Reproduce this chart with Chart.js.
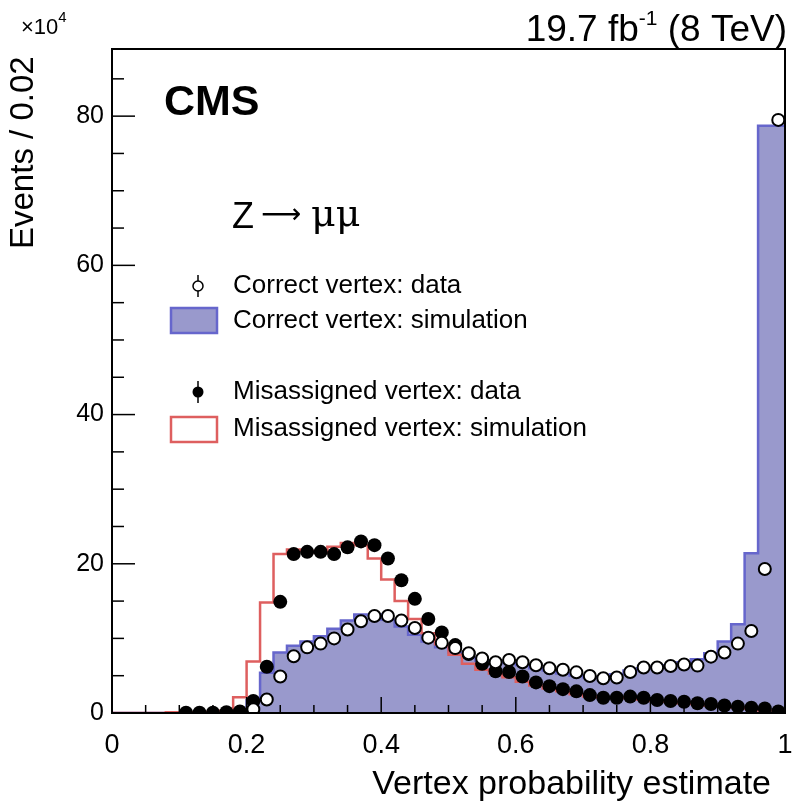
<!DOCTYPE html>
<html>
<head>
<meta charset="utf-8">
<script src="https://cdn.jsdelivr.net/npm/chart.js@4.4.1/dist/chart.umd.min.js"></script>
<style>
  body { margin: 0; background: #fff; }
  #wrap { width: 796px; height: 808px; }
</style>
</head>
<body>
<div id="wrap"><canvas id="chart" width="796" height="808"></canvas></div>
<script>
// bins of 0.02 from 0 to 1 (values in units of 10^4 events)
const BIN_WIDTH = 0.02;
const N_BINS = 50;
const binEdges = Array.from({ length: N_BINS }, (_, i) => +(i * BIN_WIDTH).toFixed(2));
const binCenters = binEdges.map(e => +(e + BIN_WIDTH / 2).toFixed(2));

const correctSim = [
  0, 0, 0, 0, 0, 0, 0, 0, 0, 0,
  0.4, 1.7, 5.4, 8.1, 9.0, 9.6, 10.3, 11.3, 12.4, 13.2,
  13.2, 12.5, 11.6, 10.5, 9.6, 8.8, 8.1, 7.4, 7.0, 6.9,
  6.7, 6.4, 6.0, 5.7, 5.3, 5.0, 4.8, 4.8, 5.2, 5.7,
  6.0, 6.2, 6.4, 6.8, 7.2, 8.0, 9.6, 11.9, 21.4, 78.7
];
const misSim = [
  0, 0, 0, 0, 0, 0.1, 0.1, 0.1, 0.15, 0.3,
  2.1, 6.9, 14.8, 21.3, 21.9, 21.7, 21.5, 22.3, 22.8, 22.5,
  20.7, 17.9, 15.0, 12.6, 10.7, 9.2, 7.8, 6.6, 5.8, 5.3,
  4.8, 4.2, 3.7, 3.3, 2.9, 2.5, 2.2, 2.1, 2.1, 2.0,
  1.8, 1.6, 1.5, 1.3, 1.2, 1.0, 0.9, 0.75, 0.6, 0.35
];
const correctData = [
  null, null, null, null, null, null, null, null, null, null,
  0.5, 1.8, 4.9, 7.6, 8.8, 9.3, 10.0, 11.2, 12.3, 13.0,
  13.0, 12.4, 11.4, 10.1, 9.4, 8.7, 8.0, 7.3, 6.8, 7.1,
  6.8, 6.4, 6.0, 5.8, 5.45, 4.95, 4.65, 4.75, 5.5, 6.1,
  6.1, 6.3, 6.5, 6.35, 7.55, 8.1, 9.3, 11.0, 19.3, 79.5
];
const misData = [
  null, null, null, null, null, 0.05, 0.05, 0.05, 0.1, 0.2,
  1.6, 6.2, 14.9, 21.3, 21.6, 21.6, 21.3, 22.2, 23.0, 22.5,
  20.7, 17.8, 15.3, 12.6, 10.8, 9.1, 7.9, 6.6, 5.6, 5.5,
  4.9, 4.1, 3.6, 3.2, 2.9, 2.4, 2.05, 2.05, 2.2, 2.05,
  1.75, 1.6, 1.5, 1.3, 1.2, 1.0, 0.85, 0.7, 0.6, 0.2
];

const xTicks = [0, 0.2, 0.4, 0.6, 0.8, 1];
const yTicks = [0, 20, 40, 60, 80];
const xMinorStep = 0.05;
const yMinorStep = 5;

const BLUE_FILL = 'rgb(153,153,204)';
const BLUE_LINE = 'rgb(102,102,204)';
const RED_LINE = 'rgb(222,95,95)';
const FONT = '"Liberation Sans", Arial, Helvetica, sans-serif';

function histPoints(vals) {
  const pts = binEdges.map((e, i) => ({ x: e, y: vals[i] }));
  pts.push({ x: 1, y: vals[vals.length - 1] });
  return pts;
}
function dataPoints(vals) {
  return binCenters.map((c, i) => ({ x: c, y: vals[i] })).filter(p => p.y !== null);
}

const framePlugin = {
  id: 'frame',
  afterDatasetsDraw(chart) {
    const { ctx, chartArea: a, scales } = chart;
    const xs = scales.x, ys = scales.y;
    ctx.save();
    ctx.strokeStyle = '#000';
    ctx.lineWidth = 2;
    ctx.strokeRect(a.left, a.top, a.right - a.left, a.bottom - a.top);
    ctx.lineWidth = 1.5;
    // ticks point inward, ROOT style
    for (let v = 0; v <= 1.0001; v += xMinorStep) {
      const px = xs.getPixelForValue(v);
      const major = xTicks.some(t => Math.abs(t - v) < 1e-6);
      ctx.beginPath();
      ctx.moveTo(px, a.bottom);
      ctx.lineTo(px, a.bottom - (major ? 16 : 8));
      ctx.stroke();
    }
    for (let v = 0; v <= ys.max; v += yMinorStep) {
      const py = ys.getPixelForValue(v);
      const major = yTicks.includes(v);
      ctx.beginPath();
      ctx.moveTo(a.left, py);
      ctx.lineTo(a.left + (major ? 23 : 12), py);
      ctx.stroke();
    }
    ctx.restore();
  },
  afterDraw(chart) {
    const { ctx } = chart;
    ctx.save();
    ctx.fillStyle = '#000';
    ctx.textBaseline = 'alphabetic';

    // luminosity label, top right
    ctx.textAlign = 'right';
    ctx.font = '37px ' + FONT;
    const tail = ' (8 TeV)';
    const tailW = ctx.measureText(tail).width;
    ctx.fillText(tail, 787, 41);
    ctx.font = '21px ' + FONT;
    const supW = ctx.measureText('-1').width;
    ctx.fillText('-1', 787 - tailW, 25);
    ctx.font = '37px ' + FONT;
    ctx.fillText('19.7 fb', 787 - tailW - supW, 41);

    // x10^4 multiplier
    ctx.textAlign = 'left';
    ctx.font = '22px ' + FONT;
    ctx.fillText('\u00d710', 21, 34);
    const w10 = ctx.measureText('\u00d710').width;
    ctx.font = '15px ' + FONT;
    ctx.fillText('4', 21 + w10, 22);

    ctx.font = 'bold 43px ' + FONT;
    ctx.fillText('CMS', 164, 115);

    // Z -> mu mu
    ctx.font = '36px ' + FONT;
    ctx.fillText('Z', 232, 228);
    ctx.font = '28px "DejaVu Sans", ' + FONT;
    ctx.fillText('\u27f6', 261, 223);
    ctx.font = '38px "DejaVu Serif", ' + FONT;
    ctx.fillText('\u03bc\u03bc', 311, 226);

    // legend
    ctx.font = '26px ' + FONT;
    ctx.textBaseline = 'middle';
    ctx.fillText('Correct vertex: data', 233, 286);
    ctx.fillText('Correct vertex: simulation', 233, 321);
    ctx.fillText('Misassigned vertex: data', 233, 392);
    ctx.fillText('Misassigned vertex: simulation', 233, 429);

    ctx.lineWidth = 1.5;
    ctx.strokeStyle = '#000';
    ctx.beginPath(); ctx.moveTo(198, 275); ctx.lineTo(198, 297); ctx.stroke();
    ctx.beginPath(); ctx.arc(198, 286, 5, 0, Math.PI * 2);
    ctx.fillStyle = '#fff'; ctx.fill(); ctx.stroke();
    ctx.beginPath(); ctx.moveTo(198, 381); ctx.lineTo(198, 403); ctx.stroke();
    ctx.beginPath(); ctx.arc(198, 392, 5.5, 0, Math.PI * 2);
    ctx.fillStyle = '#000'; ctx.fill();
    ctx.lineWidth = 2.5;
    ctx.fillStyle = BLUE_FILL;
    ctx.strokeStyle = BLUE_LINE;
    ctx.fillRect(171, 308, 46, 25);
    ctx.strokeRect(171, 308, 46, 25);
    ctx.strokeStyle = RED_LINE;
    ctx.strokeRect(171, 417, 46, 25);

    // axis titles
    ctx.fillStyle = '#000';
    ctx.textBaseline = 'alphabetic';
    ctx.textAlign = 'right';
    ctx.font = '34px ' + FONT;
    ctx.fillText('Vertex probability estimate', 771, 794);
    ctx.save();
    ctx.translate(33, 249);
    ctx.rotate(-Math.PI / 2);
    ctx.textAlign = 'left';
    ctx.font = '33px ' + FONT;
    ctx.fillText('Events / 0.02', 0, 0);
    ctx.restore();

    ctx.restore();
  }
};

const chart = new Chart(document.getElementById('chart'), {
  type: 'scatter',
  data: {
    datasets: [
      {
        label: 'Correct vertex: simulation',
        type: 'line',
        data: histPoints(correctSim),
        stepped: 'after',
        borderColor: BLUE_LINE,
        backgroundColor: BLUE_FILL,
        borderWidth: 2.5,
        fill: 'origin',
        pointRadius: 0,
        order: 4
      },
      {
        label: 'Misassigned vertex: simulation',
        type: 'line',
        data: histPoints(misSim),
        stepped: 'after',
        borderColor: RED_LINE,
        borderWidth: 2.5,
        fill: false,
        pointRadius: 0,
        order: 3
      },
      {
        label: 'Misassigned vertex: data',
        data: dataPoints(misData),
        pointRadius: 7,
        pointBackgroundColor: '#000',
        pointBorderColor: '#000',
        pointBorderWidth: 0,
        showLine: false,
        order: 2
      },
      {
        label: 'Correct vertex: data',
        data: dataPoints(correctData),
        pointRadius: 6,
        pointBackgroundColor: '#fff',
        pointBorderColor: '#000',
        pointBorderWidth: 2,
        showLine: false,
        order: 1
      }
    ]
  },
  options: {
    responsive: false,
    animation: false,
    layout: { padding: { top: 49, right: 11, left: 0, bottom: 0 } },
    plugins: { legend: { display: false }, tooltip: { enabled: false } },
    scales: {
      x: {
        type: 'linear',
        min: 0,
        max: 1,
        afterBuildTicks: s => { s.ticks = xTicks.map(v => ({ value: v })); },
        afterFit: s => { s.height = 95; s.paddingLeft = 0; s.paddingRight = 0; },
        grid: { display: false, drawTicks: false },
        border: { display: false },
        ticks: {
          font: { family: FONT, size: 27 },
          color: '#000',
          padding: 16,
          maxRotation: 0,
          callback: v => String(+v.toFixed(1))
        }
      },
      y: {
        type: 'linear',
        min: 0,
        max: 89,
        afterBuildTicks: s => { s.ticks = yTicks.map(v => ({ value: v })); },
        afterFit: s => { s.width = 112; s.paddingTop = 0; s.paddingBottom = 0; },
        grid: { display: false, drawTicks: false },
        border: { display: false },
        ticks: {
          font: { family: FONT, size: 25 },
          color: '#000',
          padding: 8
        }
      }
    }
  },
  plugins: [framePlugin]
});
</script>
</body>
</html>
